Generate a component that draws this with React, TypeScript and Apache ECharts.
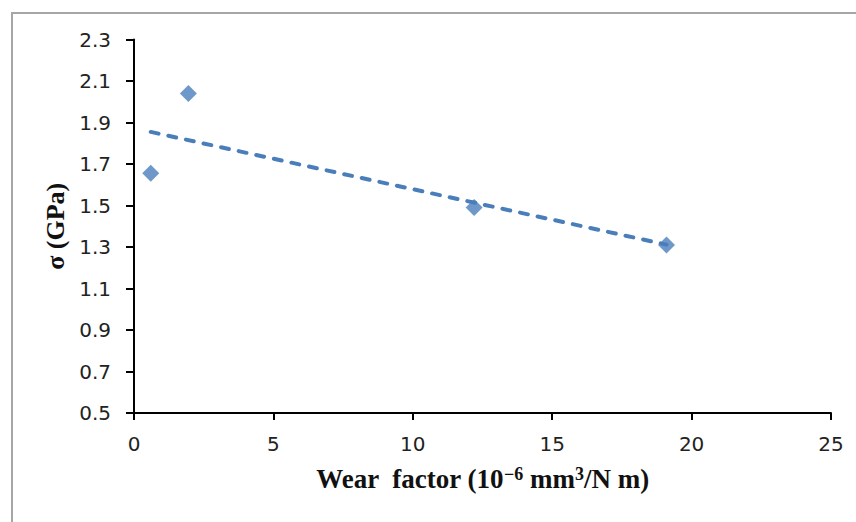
import React, { useEffect, useRef } from "react";
import * as echarts from "echarts";

const wearFactor = [0.6, 1.95, 12.2, 19.1];
const sigma = [1.655, 2.04, 1.49, 1.31];
const xTicks = [0, 5, 10, 15, 20, 25];
const yTicks = [0.5, 0.7, 0.9, 1.1, 1.3, 1.5, 1.7, 1.9, 2.1, 2.3];

function linearFit(xs: number[], ys: number[]) {
  const n = xs.length;
  const mx = xs.reduce((a, b) => a + b, 0) / n;
  const my = ys.reduce((a, b) => a + b, 0) / n;
  let sxy = 0;
  let sxx = 0;
  for (let i = 0; i < n; i++) {
    sxy += (xs[i] - mx) * (ys[i] - my);
    sxx += (xs[i] - mx) * (xs[i] - mx);
  }
  const slope = sxy / sxx;
  return { slope, intercept: my - slope * mx };
}

export default function App() {
  const ref = useRef<HTMLDivElement>(null);
  useEffect(() => {
    if (!ref.current) return;
    const chart = echarts.init(ref.current, undefined, { renderer: "svg" });
    const { slope, intercept } = linearFit(wearFactor, sigma);
    const xMin = Math.min(...wearFactor);
    const xMax = Math.max(...wearFactor);
    const trend = [
      [xMin, intercept + slope * xMin],
      [xMax, intercept + slope * xMax],
    ];
    const tickFont = { fontFamily: "DejaVu Sans", fontSize: 20, color: "#222" };
    const titleFont = {
      fontFamily: "Liberation Serif",
      fontWeight: "bold",
      fontSize: 26,
      color: "#111",
    };
    chart.setOption({
      animation: false,
      backgroundColor: "#fff",
      graphic: [
        {
          type: "rect",
          shape: { x: 12, y: 13, width: 900, height: 600 },
          style: { fill: "none", stroke: "#a6a6a6", lineWidth: 2 },
          silent: true,
        },
      ],
      grid: { left: 134, top: 39.5, right: 25, bottom: 109 },
      xAxis: {
        type: "value",
        min: xTicks[0],
        max: xTicks[xTicks.length - 1],
        interval: 5,
        name: "Wear  factor (10{sup|\u22126} mm{sup|3}/N m)",
        nameLocation: "middle",
        nameGap: 52,
        nameTextStyle: {
          ...titleFont,
          fontSize: 27,
          rich: {
            sup: {
              ...titleFont,
              fontSize: 18,
              verticalAlign: "top",
              lineHeight: 18,
            },
          },
        },
        axisLine: { lineStyle: { color: "#000", width: 2 } },
        axisTick: { show: true, length: 7, inside: false, lineStyle: { color: "#000", width: 2 } },
        axisLabel: { ...tickFont, margin: 21 },
        splitLine: { show: false },
      },
      yAxis: {
        type: "value",
        min: yTicks[0],
        max: yTicks[yTicks.length - 1],
        interval: 0.2,
        name: "\u03C3 (GPa)",
        nameLocation: "middle",
        nameGap: 65,
        nameRotate: 90,
        nameTextStyle: titleFont,
        axisLine: { show: true, lineStyle: { color: "#000", width: 2 } },
        axisTick: { show: true, length: 8, inside: false, lineStyle: { color: "#000", width: 2 } },
        axisLabel: {
          ...tickFont,
          margin: 23,
          formatter: (v: number) => v.toFixed(1),
        },
        splitLine: { show: false },
      },
      series: [
        {
          type: "line",
          data: trend,
          symbol: "none",
          lineStyle: { color: "#4a7ebb", width: 4, type: [8, 10], cap: "round" },
          silent: true,
          z: 2,
        },
        {
          type: "scatter",
          data: wearFactor.map((x, i) => [x, sigma[i]]),
          symbol: "diamond",
          symbolSize: [17, 17],
          itemStyle: { color: "#4a7ebb" },
          z: 3,
        },
      ],
    });
    return () => chart.dispose();
  }, []);
  return (
    <div
      ref={ref}
      style={{ position: "absolute", left: 0, top: 0, width: 856, height: 522 }}
    />
  );
}
